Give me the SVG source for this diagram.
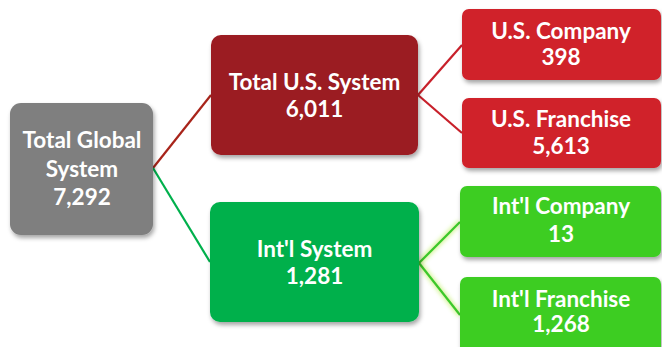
<svg xmlns="http://www.w3.org/2000/svg" width="662" height="347" viewBox="0 0 662 347">
  <defs>
    <filter id="shadow" x="-10%" y="-10%" width="130%" height="140%">
      <feDropShadow dx="1.5" dy="3" stdDeviation="2" flood-color="#000" flood-opacity="0.35"/>
    </filter>
    <filter id="glow" x="-20%" y="-20%" width="140%" height="140%">
      <feGaussianBlur stdDeviation="2.2"/>
    </filter>
  </defs>
  <style>
    .box { filter: url(#shadow); }
    .lbl { font-family: Lato, "Open Sans", "Liberation Sans", sans-serif; font-weight: 700; font-size: 22.5px; fill: #ffffff; text-anchor: middle; }
    .gray { fill: #7f7f7f; }
    .dred { fill: #9b1a20; }
    .red { fill: #d0202a; }
    .dgreen { fill: #00b04c; }
    .lgreen { fill: #3ccd24; }
    .conn { fill: none; stroke-width: 2.2; }
    .halo { fill: none; stroke: #c9f07a; stroke-width: 5; opacity: 0.8; filter: url(#glow); }
  </style>

  <!-- connectors -->
  <g id="connectors">
    <line class="conn" x1="153" y1="168" x2="211" y2="95" stroke="#a8241a"/>
    <line class="conn" x1="153" y1="168" x2="210" y2="262" stroke="#00b04c"/>
    <line class="conn" x1="418" y1="95" x2="462" y2="45" stroke="#c8202a"/>
    <line class="conn" x1="418" y1="95" x2="462" y2="133" stroke="#c8202a"/>
    <line class="halo" x1="419" y1="263" x2="460" y2="222"/>
    <line class="halo" x1="419" y1="263" x2="460" y2="315"/>
    <line class="conn" x1="419" y1="263" x2="460" y2="222" stroke="#3cc82a"/>
    <line class="conn" x1="419" y1="263" x2="460" y2="315" stroke="#3cc82a"/>
  </g>

  <!-- root -->
  <g id="total-global">
    <rect class="box gray" x="10" y="103" width="143" height="132" rx="11"/>
    <text class="lbl" x="82" y="148">Total Global</text>
    <text class="lbl" x="82" y="177">System</text>
    <text class="lbl" x="82" y="205">7,292</text>
  </g>

  <!-- second level -->
  <g id="total-us">
    <rect class="box dred" x="211" y="35" width="207" height="120" rx="10"/>
    <text class="lbl" x="314.5" y="90">Total U.S. System</text>
    <text class="lbl" x="314.5" y="117">6,011</text>
  </g>
  <g id="intl-system">
    <rect class="box dgreen" x="210" y="202" width="209" height="120" rx="10"/>
    <text class="lbl" x="314.5" y="257">Int'l System</text>
    <text class="lbl" x="314.5" y="284">1,281</text>
  </g>

  <!-- leaves -->
  <g id="us-company">
    <rect class="box red" x="462" y="9" width="199" height="71" rx="7"/>
    <text class="lbl" x="561" y="39">U.S. Company</text>
    <text class="lbl" x="561" y="65">398</text>
  </g>
  <g id="us-franchise">
    <rect class="box red" x="462" y="98" width="199" height="70" rx="7"/>
    <text class="lbl" x="561" y="127">U.S. Franchise</text>
    <text class="lbl" x="561" y="154">5,613</text>
  </g>
  <g id="intl-company">
    <rect class="box lgreen" x="460" y="186" width="201" height="71" rx="7"/>
    <text class="lbl" x="561" y="214">Int'l Company</text>
    <text class="lbl" x="561" y="242">13</text>
  </g>
  <g id="intl-franchise">
    <rect class="box lgreen" x="460" y="277" width="201" height="80" rx="7"/>
    <text class="lbl" x="561" y="307">Int'l Franchise</text>
    <text class="lbl" x="561" y="332">1,268</text>
  </g>
</svg>
